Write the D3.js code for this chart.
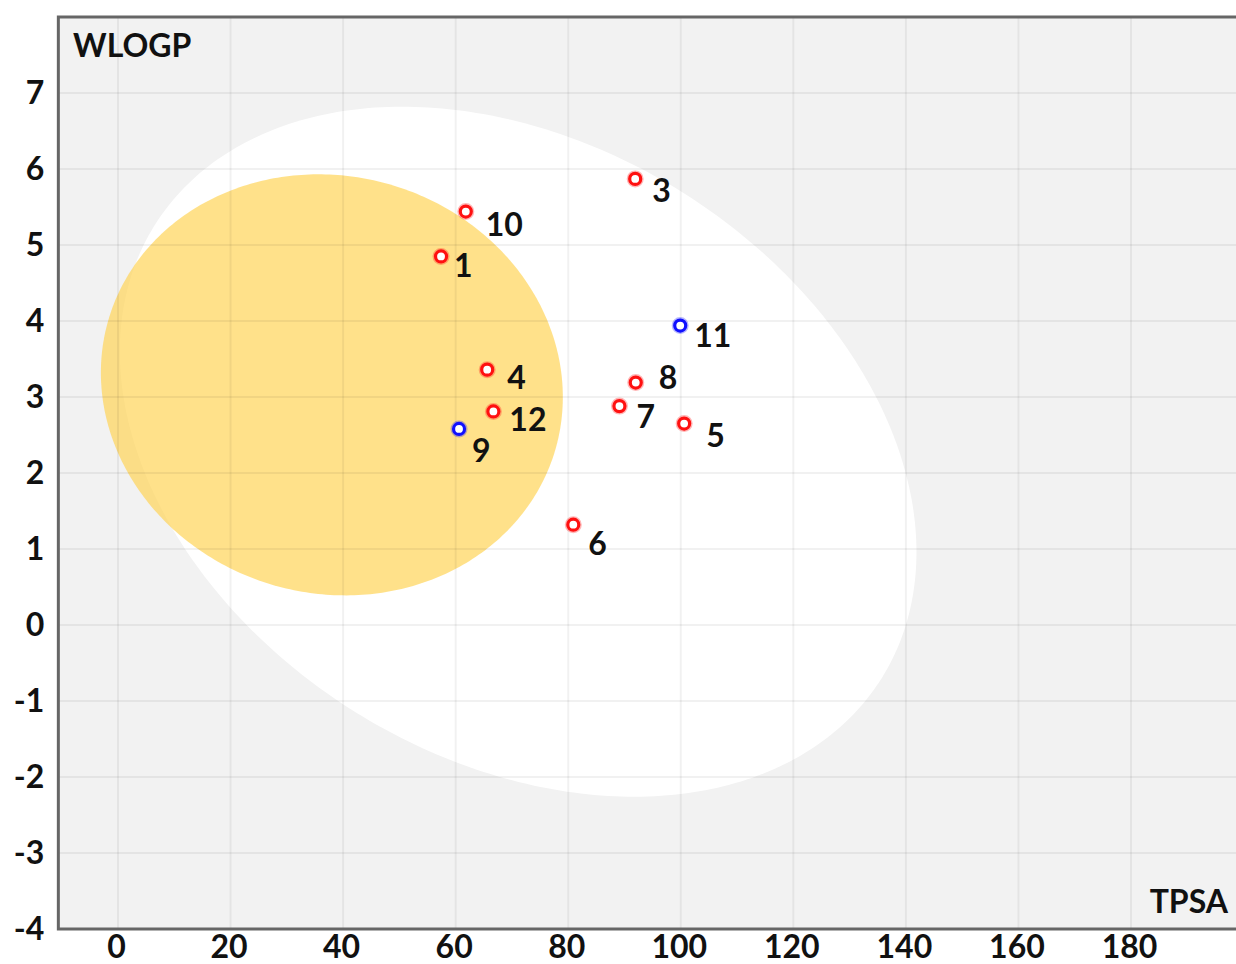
<!DOCTYPE html>
<html><head><meta charset="utf-8">
<script src="https://cdn.jsdelivr.net/npm/d3@7"></script>
<style>
body{margin:0;background:#fff}
svg{display:block}
text{font-family:Lato,"Open Sans",sans-serif;font-weight:700;fill:#111}
</style>
</head><body>
<svg id="chart" width="1236" height="964"></svg>
<script>
// ---- data ----
const compoundLabels = ["1","3","4","5","6","7","8","9","10","11","12"];
const tpsaValues  = [57.4, 91.9, 65.6, 100.6, 80.9, 89.1, 92.0, 60.6, 61.8, 99.9, 66.7];
const wlogpValues = [4.85, 5.87, 3.36, 2.65, 1.32, 2.88, 3.19, 2.58, 5.44, 3.94, 2.81];
const pgpSubstrate = [false,false,false,false,false,false,false,true,false,true,false];
const xTicks = [0,20,40,60,80,100,120,140,160,180];
const yTicks = [-4,-3,-2,-1,0,1,2,3,4,5,6,7];
// ellipse regions (centre in TPSA/WLOGP, semi-axes in TPSA / WLOGP units, tilt in degrees)
const hiaEllipse = {cx:71.1, cy:2.28, rx:76.1, ry:4.04, angle:31.8};
const bbbEllipse = {cx:38.0, cy:3.16, rx:41.35, ry:2.745, angle:16};

// ---- layout ----
const W = 1236, H = 964, FS = "32px";
const svg = d3.select("#chart");
const x = d3.scaleLinear().domain([0,180]).range([118,1131]);
const y = d3.scaleLinear().domain([-4,7]).range([929,93]);
const xMin = -10.6, xMax = 205, yMax = 8.0;
const pLeft = x(xMin), pTop = y(yMax), pBottom = y(-4), pRight = x(xMax);

svg.append("rect").attr("width",W).attr("height",H).attr("fill","#fff");
svg.append("rect").attr("x",pLeft).attr("y",pTop).attr("width",pRight-pLeft).attr("height",pBottom-pTop).attr("fill","#f2f2f2");

svg.append("clipPath").attr("id","plotclip").append("rect")
  .attr("x",pLeft).attr("y",pTop).attr("width",pRight-pLeft).attr("height",pBottom-pTop);
const plot = svg.append("g").attr("clip-path","url(#plotclip)");

function ellipsePath(e){
  const cx = x(e.cx), cy = y(e.cy);
  const a = x(e.cx+e.rx)-cx, b = cy - y(e.cy+e.ry);
  const th = e.angle*Math.PI/180, c = Math.cos(th), s = Math.sin(th);
  const pts = d3.range(0,360,1).map(d=>{
    const t = d*Math.PI/180, u = a*Math.cos(t), v = b*Math.sin(t);
    return [cx + u*c - v*s, cy + u*s + v*c];
  });
  return d3.line().curve(d3.curveLinearClosed)(pts);
}
plot.append("path").attr("d",ellipsePath(hiaEllipse)).attr("fill","#ffffff");
plot.append("path").attr("d",ellipsePath(bbbEllipse)).attr("fill","#ffd24d").attr("fill-opacity",0.66);

// grid
const gridX = d3.range(0,201,20), gridY = d3.range(-3,8,1);
plot.selectAll(".gx").data(gridX).join("line")
  .attr("x1",d=>x(d)).attr("x2",d=>x(d)).attr("y1",pTop).attr("y2",pBottom)
  .attr("stroke","#000").attr("stroke-opacity",0.055).attr("stroke-width",2);
plot.selectAll(".gy").data(gridY).join("line")
  .attr("y1",d=>y(d)).attr("y2",d=>y(d)).attr("x1",pLeft).attr("x2",pRight)
  .attr("stroke","#000").attr("stroke-opacity",0.055).attr("stroke-width",2);

// frame
svg.append("path").attr("d",`M${pRight},${pTop}H${pLeft}V${pBottom}H${pRight}`)
  .attr("fill","none").attr("stroke","#666").attr("stroke-width",3);

// axes
const yAxis = svg.append("g").attr("transform",`translate(${pLeft},0)`)
  .call(d3.axisLeft(y).tickValues(yTicks).tickSize(0).tickPadding(14).tickFormat(d=>String(d)));
const xAxis = svg.append("g").attr("transform",`translate(0,${pBottom})`)
  .call(d3.axisBottom(x).tickValues(xTicks).tickSize(0).tickPadding(6).tickFormat(d=>String(d)));
[yAxis,xAxis].forEach(g=>{
  g.select(".domain").remove();
  g.selectAll("text").style("font-family","Lato, 'Open Sans', sans-serif").style("font-weight","700")
   .style("font-size",FS).attr("fill","#111");
});
xAxis.selectAll("text").attr("dx",-2);

svg.append("text").attr("x",73).attr("y",57).attr("font-size",FS).text("WLOGP");
svg.append("text").attr("x",1228).attr("y",913).attr("text-anchor","end").attr("font-size",FS).text("TPSA");

// points
const pts = compoundLabels.map((l,i)=>({label:l, tpsa:tpsaValues[i], wlogp:wlogpValues[i], pgp:pgpSubstrate[i]}));
const labelNudge = {"1":[13,21],"3":[17,23],"4":[20,19],"5":[22,23],"6":[15,30],"7":[17,22],"8":[23,6],
  "9":[13,33],"10":[20,24],"11":[14,21],"12":[16,20]};
const col = d=> d.pgp ? "#1010ff" : "#ff1010";
plot.selectAll(".glow").data(pts).join("circle")
  .attr("cx",d=>x(d.tpsa)).attr("cy",d=>y(d.wlogp)).attr("r",5.5)
  .attr("fill","none").attr("stroke",col).attr("stroke-opacity",0.3).attr("stroke-width",6);
plot.selectAll(".pt").data(pts).join("circle")
  .attr("cx",d=>x(d.tpsa)).attr("cy",d=>y(d.wlogp)).attr("r",5.5)
  .attr("fill","#fff").attr("stroke",col).attr("stroke-width",3.2);
plot.selectAll(".lbl").data(pts).join("text")
  .attr("x",d=>x(d.tpsa)+labelNudge[d.label][0]).attr("y",d=>y(d.wlogp)+labelNudge[d.label][1])
  .attr("font-size",FS).text(d=>d.label);
</script>
</body></html>
